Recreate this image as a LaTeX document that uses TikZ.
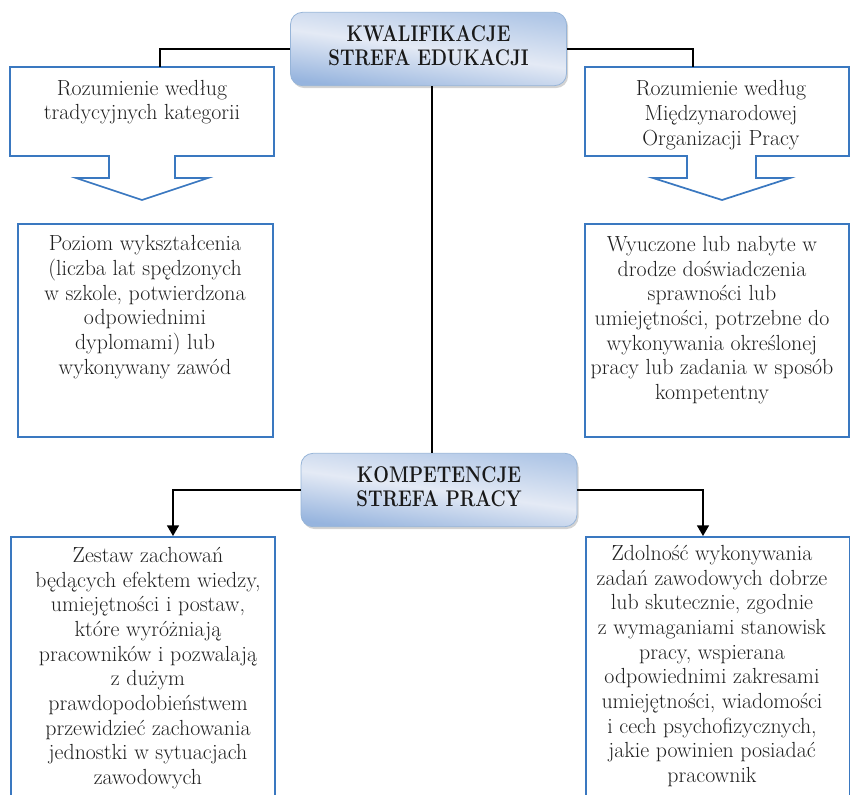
\documentclass[tikz,border=0pt]{standalone}
\usepackage{graphicx}
\usetikzlibrary{arrows.meta,shadows}
\definecolor{boxblue}{RGB}{58,120,192}
\definecolor{titleedge}{RGB}{150,180,216}
\definecolor{titletop}{RGB}{175,198,230}
\definecolor{titlemid}{RGB}{228,234,245}
\definecolor{titlebot}{RGB}{150,180,222}
\newcommand{\headtext}[1]{\scalebox{0.82}[1]{\fontsize{17}{18}\selectfont\bfseries
  \begin{tabular}{@{}c@{}}#1\end{tabular}}}
\tikzset{
  titlebox/.style={rounded corners=9pt, draw=titleedge, line width=0.6pt,
    top color=titletop, bottom color=titlebot, middle color=titlemid,
    shading angle=-8,
    drop shadow={opacity=0.35, shadow xshift=1.2pt, shadow yshift=-1.8pt},
    align=center, text=black!90, minimum width=207pt, minimum height=55pt, inner sep=0pt},
  outline/.style={draw=boxblue, line width=1.3pt},
  txt/.style={font=\fontsize{16.4}{18.5}\selectfont, align=center, inner sep=0pt, text=black!88},
  link/.style={draw=black, line width=1.1pt},
  arr/.style={link, -{Triangle[width=9pt,length=8pt]}}
}
\begin{document}
\begin{tikzpicture}[x=0.75pt,y=-0.75pt]
\useasboundingbox (0,0) rectangle (850,795);
\clip (0,0) rectangle (850,795);

% callout shapes below the education header
\draw[outline] (10,67) -- (274,67) -- (274,156) -- (175,156) -- (175,178) -- (208,178)
  -- (142,200) -- (76,178) -- (109,178) -- (109,156) -- (10,156) -- cycle;
\draw[outline] (585,67) -- (849,67) -- (849,156) -- (756,156) -- (756,178) -- (790,178)
  -- (722,200) -- (653,178) -- (687,178) -- (687,156) -- (585,156) -- cycle;
\coordinate (calL) at (160,67);
\coordinate (calR) at (693,67);

% definition boxes
\draw[outline] (18,224) rectangle (273,437);
\draw[outline] (585,224) rectangle (849,437);
\node[outline, anchor=north west, minimum width=198pt, minimum height=220pt, inner sep=0pt] (botL) at (10,536) {};
\node[outline, anchor=north west, minimum width=198pt, minimum height=220pt, inner sep=0pt] (botR) at (585,536) {};

% headers
\node[titlebox] (kwal) at (428.5,49) {\headtext{KWALIFIKACJE\\STREFA EDUKACJI}};
\node[titlebox] (komp) at (439,490) {\headtext{KOMPETENCJE\\STREFA PRACY}};

% connectors
\draw[link] (kwal.west) -| (calL);
\draw[link] (kwal.east) -| (calR);
\draw[link] (kwal.south -| 432,0) -- (komp.north -| 432,0);
\draw[arr] (komp.west) -| (botL.north -| 173,0);
\draw[arr] (komp.east) -| (botR.north -| 703,0);

% texts
\node[txt] (t1) at (142,102) {Rozumienie według\\tradycyjnych kategorii};
\node[txt] (t2) at (721,115) {Rozumienie według\\Międzynarodowej\\Organizacji Pracy};
\node[txt] (t3) at (145,307) {Poziom wykształcenia\\(liczba lat spędzonych\\w szkole, potwierdzona\\odpowiednimi\\dyplomami) lub\\wykonywany zawód};
\node[txt] (t4) at (712,320) {Wyuczone lub nabyte w\\drodze doświadczenia\\sprawności lub\\umiejętności, potrzebne do\\wykonywania określonej\\pracy lub zadania w sposób\\kompetentny};
\node[txt] (t5) at (148,668) {Zestaw zachowań\\będących efektem wiedzy,\\umiejętności i postaw,\\które wyróżniają\\pracowników i pozwalają\\z dużym\\prawdopodobieństwem\\przewidzieć zachowania\\jednostki w sytuacjach\\zawodowych};
\node[txt] (t6) at (712,666) {Zdolność wykonywania\\zadań zawodowych dobrze\\lub skutecznie, zgodnie\\z wymaganiami stanowisk\\pracy, wspierana\\odpowiednimi zakresami\\umiejętności, wiadomości\\i cech psychofizycznych,\\jakie powinien posiadać\\pracownik};
\end{tikzpicture}
\end{document}
